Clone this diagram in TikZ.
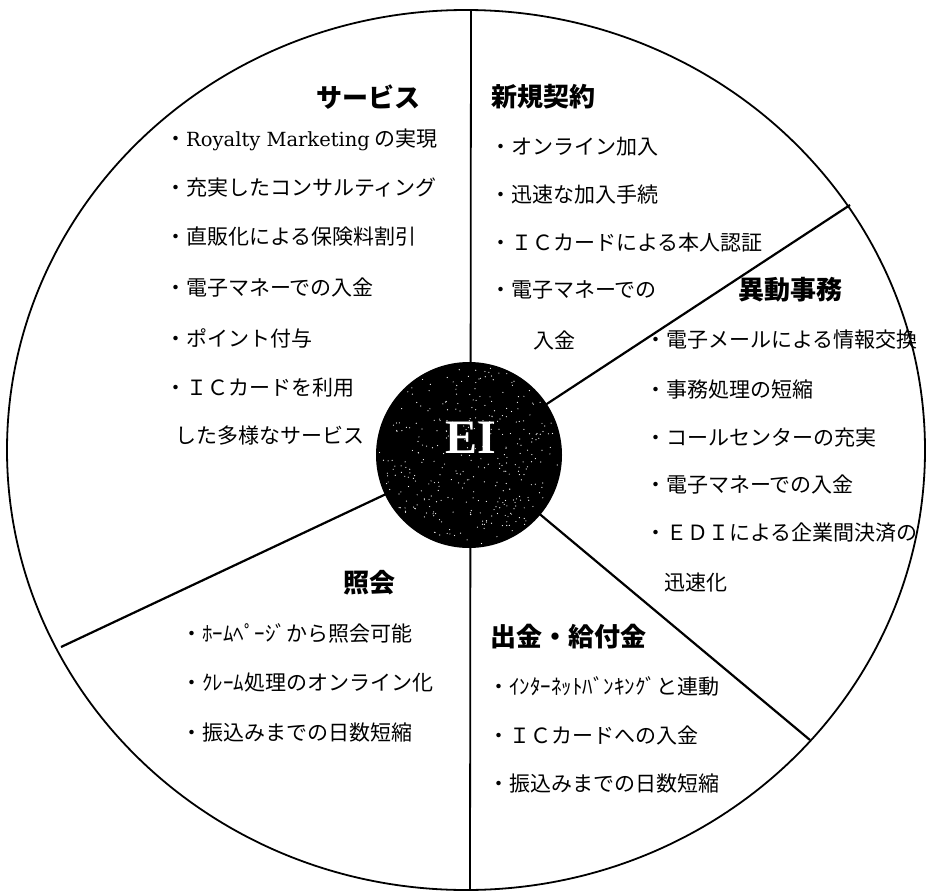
\documentclass[tikz,border=0pt]{standalone}
\usepackage{fontspec}
\usetikzlibrary{shapes.geometric}
\newfontfamily\jp{Noto Sans CJK JP}
\newfontfamily\lserif{Liberation Serif}
\newfontfamily\dserif{DejaVu Serif}
\begin{document}
\begin{tikzpicture}[x=1pt,y=-1pt,
  body/.style={anchor=west, inner sep=0pt, font=\jp\fontsize{21}{21}\selectfont},
  head/.style={anchor=west, inner sep=0pt, font=\jp\bfseries\fontsize{26}{26}\selectfont},
  divider/.style={line width=2.2pt},
  rim/.style={draw, ellipse, line width=1.8pt, inner sep=0pt},
  hub/.style={circle, fill=black, inner sep=0pt, minimum size=186pt},
  hubtext/.style={text=white, inner sep=0pt, font=\lserif\bfseries\fontsize{48}{48}\selectfont}
]
\useasboundingbox (0,0) rectangle (926,891);
% outer ring
\node[rim, minimum width=918pt, minimum height=880pt] (outer) at (466,450) {};
% divider end points
\coordinate (c) at (469,455);
\coordinate (top) at (471,10);
\coordinate (bot) at (470,890);
\coordinate (ur) at (850,205);
\coordinate (lr) at (810,740);
\coordinate (ll) at (61,647);
\draw[divider, line width=1.8pt] (top) -- (bot);
\draw[divider] (c) -- (ur);
\draw[divider] (c) -- (lr);
\draw[divider] (c) -- (ll);
% hub
\node[hub] (ei) at (c) {};
\pgfmathsetseed{7}
\foreach \k in {1,...,350}{
  \pgfmathsetmacro\rr{90*sqrt(rnd)}
  \pgfmathsetmacro\aa{360*rnd}
  \fill[white] (c) ++(\aa:\rr) circle (0.6);
}
\node[hubtext] (eit) at (471,438) {EI};

% サービス
\node[head] (h1) at (316,97) {サービス};
\node[body] (s1) at (165,140) {・{\dserif\fontsize{19.5}{21}\selectfont Royalty Marketing} の実現};
\node[body] (s2) at (165,188) {・充実したコンサルティング};
\node[body] (s3) at (165,237) {・直販化による保険料割引};
\node[body] (s4) at (165,288) {・電子マネーでの入金};
\node[body] (s5) at (165,338) {・ポイント付与};
\node[body] (s6) at (165,388) {・ＩＣカードを利用};
\node[body] (s7) at (175,436) {した多様なサービス};

% 新規契約
\node[head] (h2) at (491,97) {新規契約};
\node[body] (n1) at (490,147) {・オンライン加入};
\node[body] (n2) at (490,195) {・迅速な加入手続};
\node[body] (n3) at (490,243) {・ＩＣカードによる本人認証};
\node[body] (n4) at (490,290) {・電子マネーでの};
\node[body] (n5) at (533,340) {入金};

% 異動事務
\node[head] (h3) at (738,290) {異動事務};
\node[body] (i1) at (645,340) {・電子メールによる情報交換};
\node[body] (i2) at (645,390) {・事務処理の短縮};
\node[body] (i3) at (645,438) {・コールセンターの充実};
\node[body] (i4) at (645,485) {・電子マネーでの入金};
\node[body] (i5) at (645,533) {・ＥＤＩによる企業間決済の};
\node[body] (i6) at (664,583) {迅速化};

% 照会
\node[head] (h4) at (343,583) {照会};
\node[body] (q1) at (181,633) {・ﾎｰﾑﾍﾟｰｼﾞから照会可能};
\node[body] (q2) at (181,683) {・ｸﾚｰﾑ処理のオンライン化};
\node[body] (q3) at (181,733) {・振込みまでの日数短縮};

% 出金・給付金
\node[head] (h5) at (490,637) {出金・給付金};
\node[body] (p1) at (488,686) {・ｲﾝﾀｰﾈｯﾄﾊﾞﾝｷﾝｸﾞと連動};
\node[body] (p2) at (488,735) {・ＩＣカードへの入金};
\node[body] (p3) at (488,784) {・振込みまでの日数短縮};
\end{tikzpicture}
\end{document}
